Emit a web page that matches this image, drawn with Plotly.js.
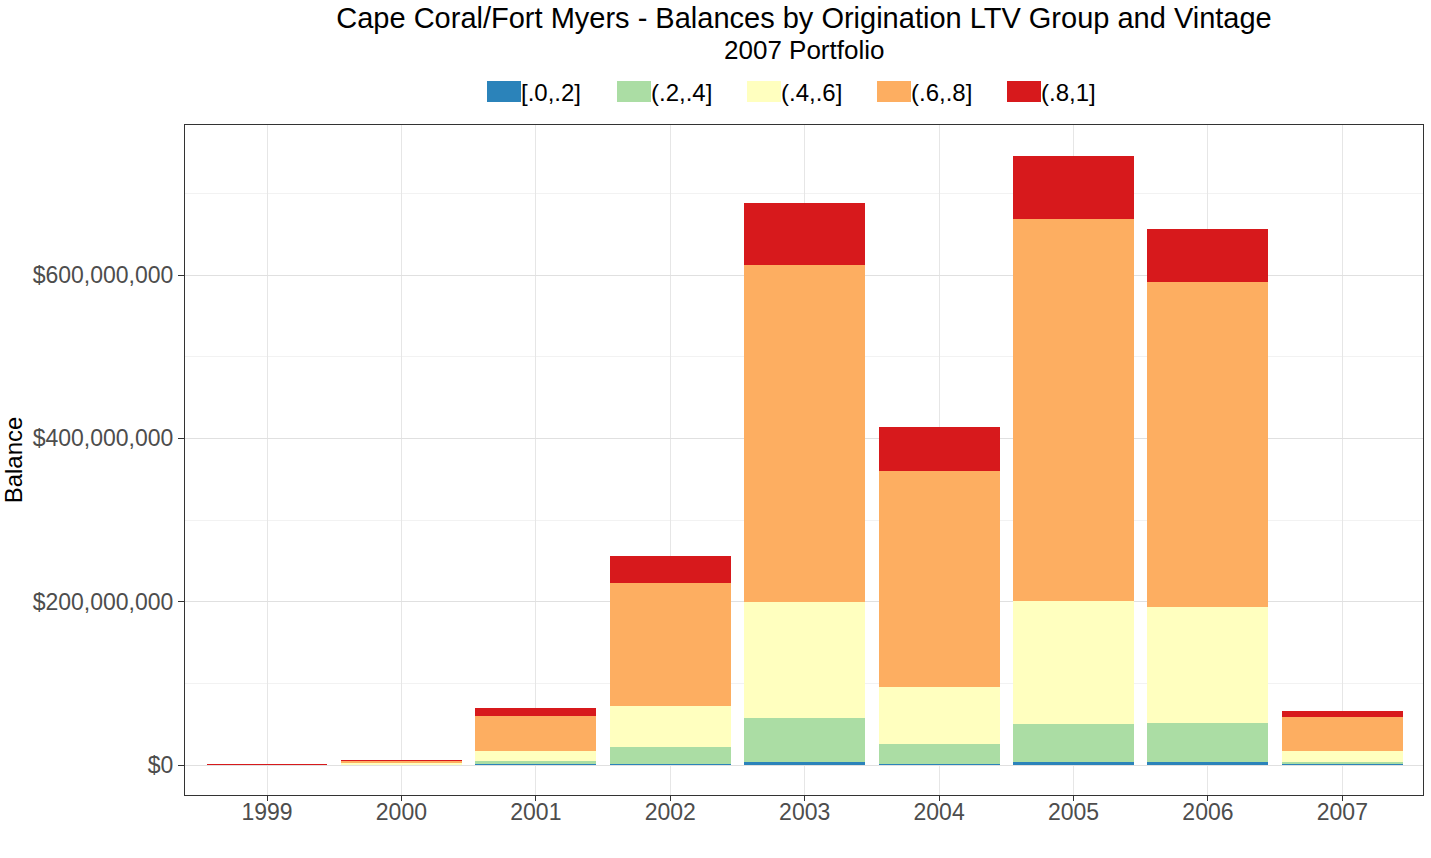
<!DOCTYPE html>
<html>
<head>
<meta charset="utf-8">
<script src="https://cdn.plot.ly/plotly-3.0.1.min.js"></script>
<style>html,body{margin:0;padding:0;background:#fff;}#chart{width:1431px;height:858px;}</style>
</head>
<body>
<div id="chart"></div>
<script>
const vintages = ['1999','2000','2001','2002','2003','2004','2005','2006','2007'];
const groups = ['[.0,.2]', '(.2,.4]', '(.4,.6]', '(.6,.8]', '(.8,1]'];
const colors = ['#2B83BA', '#ABDDA4', '#FFFFBF', '#FDAE61', '#D7191C'];
const yTickVals = [0, 200e6, 400e6, 600e6];
const yTickText = ['$0', '$200,000,000', '$400,000,000', '$600,000,000'];
// balances in dollars
const ltv00_02 = [0, 100000, 1000000, 1800000, 3700000, 1200000, 3700000, 3700000, 1000000];
const ltv02_04 = [50000, 500000, 3700000, 20800000, 53900000, 24300000, 46900000, 48100000, 2500000];
const ltv04_06 = [100000, 1300000, 12200000, 50200000, 142000000, 70200000, 150300000, 141700000, 13500000];
const ltv06_08 = [500000, 3300000, 42900000, 150600000, 412700000, 264500000, 467800000, 398000000, 42000000];
const ltv08_10 = [1200000, 1400000, 9800000, 33000000, 75900000, 53900000, 77200000, 64900000, 7000000];
const series = [ltv00_02, ltv02_04, ltv04_06, ltv06_08, ltv08_10];

const font = 'Liberation Sans, Arial, sans-serif';
const W = 1431, H = 858;
const M = {l: 185, r: 8, t: 125, b: 63};
const plotW = W - M.l - M.r, plotH = H - M.t - M.b;
const px2x = p => (p - M.l) / plotW;
const px2y = p => (H - M.b - p) / plotH;

const traces = series.map((vals, i) => ({
  type: 'bar',
  name: groups[i],
  x: vintages,
  y: vals,
  marker: {color: colors[i], line: {width: 0}},
  showlegend: false
}));

// custom legend (large key rectangles like ggplot)
const shapes = [];
const annotations = [];
const legendStart = 487, legendStep = 130, keyW = 34, keyTop = 81, keyBot = 102;
groups.forEach((g, i) => {
  const x0 = legendStart + i * legendStep;
  shapes.push({type: 'rect', xref: 'paper', yref: 'paper',
    x0: px2x(x0), x1: px2x(x0 + keyW), y0: px2y(keyBot), y1: px2y(keyTop),
    fillcolor: colors[i], line: {width: 0}, layer: 'above'});
  annotations.push({xref: 'paper', yref: 'paper', x: px2x(x0 + keyW), y: px2y(92),
    xanchor: 'left', yanchor: 'middle', showarrow: false, text: g,
    font: {family: font, size: 24, color: '#000'}, xshift: -2});
});
annotations.push({xref: 'paper', yref: 'paper', x: 0.5, y: px2y(50), xanchor: 'center', yanchor: 'middle',
  showarrow: false, text: '2007 Portfolio', font: {family: font, size: 26, color: '#000'}});

const layout = {
  width: W, height: H,
  barmode: 'stack',
  bargap: 0.1,
  showlegend: false,
  paper_bgcolor: '#ffffff',
  plot_bgcolor: '#ffffff',
  font: {family: font, color: '#000'},
  margin: M,
  title: {
    text: 'Cape Coral/Fort Myers - Balances by Origination LTV Group and Vintage',
    font: {family: font, size: 29, color: '#000'},
    x: 0.5, xanchor: 'center', xref: 'paper',
    y: 1 - 18 / H, yanchor: 'middle', yref: 'container'
  },
  shapes: shapes,
  annotations: annotations,
  xaxis: {
    type: 'category',
    range: [-0.61, 8.6],
    showgrid: true, gridcolor: '#e6e6e6', gridwidth: 1,
    ticks: 'outside', ticklen: 5, tickcolor: '#333333',
    ticklabelstandoff: -9,
    tickfont: {family: font, size: 23, color: '#4d4d4d'},
    showline: true, linecolor: '#333333', linewidth: 1, mirror: true,
    zeroline: false
  },
  yaxis: {
    range: [-36.7e6, 783.8e6],
    tickvals: yTickVals,
    ticktext: yTickText,
    showgrid: true, gridcolor: '#e0e0e0', gridwidth: 1,
    minor: {tickvals: [100e6, 300e6, 500e6, 700e6], showgrid: true, gridcolor: '#f2f2f2', gridwidth: 1, ticks: ''},
    ticks: 'outside', ticklen: 6, tickcolor: '#333333',
    tickfont: {family: font, size: 23, color: '#4d4d4d'},
    showline: true, linecolor: '#333333', linewidth: 1, mirror: true,
    zeroline: false,
    title: {text: 'Balance', font: {family: font, size: 24, color: '#000'}, standoff: 4}
  }
};

Plotly.newPlot('chart', traces, layout, {displayModeBar: false, staticPlot: true});
</script>
</body>
</html>
